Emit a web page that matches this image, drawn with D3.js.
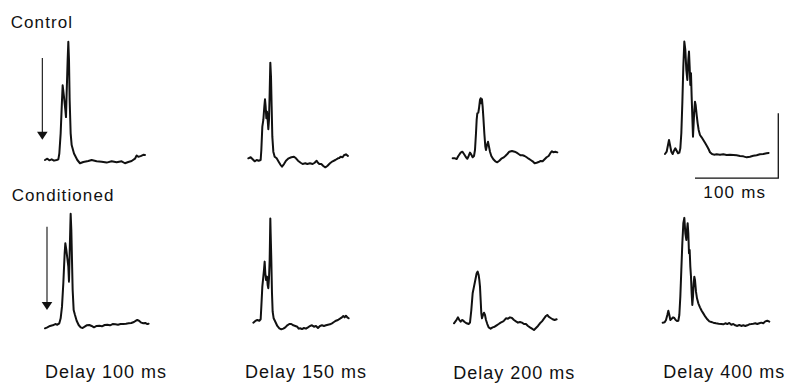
<!DOCTYPE html>
<html><head><meta charset="utf-8">
<script src="https://cdn.jsdelivr.net/npm/d3@7"></script>
<style>html,body{margin:0;padding:0;background:#fff;} svg{display:block;}</style>
</head><body><svg id="c" width="786" height="383"></svg>
<script>
// ---- data ----
const delays = ["Delay 100 ms", "Delay 150 ms", "Delay 200 ms", "Delay 400 ms"];
const conditions = ["Control", "Conditioned"];
const scaleLabel = "100 ms";
// [time ms from panel origin, amplitude (scale bar = 100 units)]
const control100 = [[0,0],[2.8,2],[5.2,-0.5],[8,1],[10.8,-1],[14,0],[16,1],[17.2,10],[18.8,41],[20.4,92],[21.2,115],[22.8,97],[24.4,77],[25.2,66],[26,103],[27.2,154],[28,182],[28.8,154],[29.6,92],[30.8,41],[32,23],[34.8,10],[38.8,0],[42,-5],[46,-3],[52,-1.5],[56,0],[62,-2],[68,-2.6],[74,-4],[80,-2],[86,-3.5],[92,-2],[96,-5],[100,-3],[104,-1.5],[108,2],[110,7],[112,5],[114.8,6],[118,8],[120,7.7]];
const control150 = [[1.6,2.6],[4.4,4.2],[6.8,1.1],[9.2,-2],[11.6,0],[14,-1.1],[16.4,0],[17.2,15.4],[18.4,51.3],[19.6,61.6],[20.8,82],[21.6,93.5],[22.4,82],[23.2,64.2],[24,74.4],[24.8,61.6],[25.6,47.3],[26.4,61.6],[27.2,102.7],[28,149.8],[28.8,128.3],[29.6,82],[30.4,35.9],[31.6,12.8],[33.2,5.1],[35.6,2.6],[38,-2.6],[40.4,-7.7],[42,-10.3],[44.4,-6.2],[46.8,-1.1],[50,2.6],[53.2,4.2],[56.4,5.1],[58.8,2.6],[61.2,-1.1],[64.4,-4.2],[66.8,-6.2],[70,-5.1],[72.4,-6.2],[75.6,-5.1],[78.8,-6.2],[81.2,-4.2],[83.6,-1.1],[85.2,-4.2],[86.8,-6.2],[89.2,-6.2],[91.6,-9.2],[94,-11.3],[96.4,-9.2],[99.6,-5.1],[102.8,-2],[106,0],[109.2,2.6],[110.8,3.1],[112.4,5.1],[114.8,4.2],[116.4,7.3],[118.8,8.8],[121.2,6.2]];
const control200 = [[0.8,2.6],[3.6,2.6],[5.6,1.5],[7.6,6.2],[10.4,11.3],[12.4,12.8],[14.4,9.2],[16.8,4.2],[18.4,2],[20,6.2],[21.6,11.3],[23.2,8.2],[24.8,4.2],[26.4,6.2],[27.6,15.4],[28.8,41.1],[29.6,61.6],[30.4,71.9],[31.6,72.9],[32.4,79.6],[33.6,92.4],[34.4,95],[35.2,87.3],[36,93.5],[36.8,82.1],[37.6,66.7],[38.8,41.1],[40,20.5],[40.8,15.4],[42,23.1],[43.2,28.2],[44.4,20.5],[45.6,12.8],[47.2,6.2],[49.6,1.1],[52,-2],[54.4,-3.6],[56.8,-1.1],[59.2,2],[61.6,3.6],[64,6.2],[66.4,9.2],[68.8,12.8],[72,13.9],[75.2,12.8],[77.6,11.3],[80,9.2],[82.4,7.2],[84.8,7.2],[87.2,6.2],[89.6,4.2],[92,2],[94.4,0],[96.8,-2],[99.2,-5.1],[101.6,-4.2],[104,-3.1],[106.4,-1.5],[108.8,-2],[111.2,1.1],[113.6,4.2],[116,6.2],[118.4,11.3],[120,13.4],[121.6,11.8],[124,12.8],[126.4,11.8]];
const control400 = [[0,9.2],[2,12.8],[3.6,23.1],[4.8,30.8],[6,23.1],[7.6,12.8],[9.2,9.2],[10.8,14.3],[12.4,17.9],[14,14.3],[15.6,10.3],[17.2,11.3],[18.4,17.9],[19.6,41.1],[20.8,87.3],[22,143.8],[23.2,182.2],[24.4,169.4],[25.6,138.6],[26.8,123.2],[28,154],[28.8,166.8],[29.6,143.8],[30.4,115.5],[31.2,133.4],[32,97.5],[32.8,66.7],[33.6,35.9],[34.4,56.5],[35.2,77],[36,89.8],[36.8,84.7],[38,69.3],[39.2,56.5],[40.4,46.2],[42,38.5],[44,34.9],[46,30.8],[48.4,25.7],[50.8,20.5],[52.4,16.5],[54,11.9],[56.4,9.2],[58.8,8.2],[62,8.8],[66,8.2],[70,8.8],[74,7.7],[78,8.2],[82,7.7],[86,7.2],[90,6.2],[94,5.6],[98,4.1],[102,5.1],[106,6.6],[110,7.2],[114,8.8],[118,9.2],[122,10.3],[124.4,10.8]];
const conditioned100 = [[0,-5.1],[2.8,-3.6],[6,-1.5],[9.2,-0.5],[12.4,1.5],[14.8,0.5],[17.2,2.6],[18.8,10.3],[20.4,28.2],[22,64.2],[23.6,110.4],[24.4,125.8],[25.6,115.5],[26.8,102.7],[28,89.8],[28.8,66.7],[29.6,110.4],[30.4,151.5],[30.8,171.1],[31.6,146.3],[32.4,100.1],[33.2,53.9],[34.4,23.1],[36,15.4],[38,6.6],[40.4,0],[42.8,-3.6],[45.2,-4.6],[47.6,-2.6],[50,-0.5],[53.2,0],[56,-1.5],[58.8,-3.6],[62,-1.5],[65.2,-1.1],[68.4,-2],[71.6,0],[74.8,0.5],[78,-0.5],[81.2,1.5],[84.4,1.1],[87.6,0.5],[90.8,1.5],[94,1.5],[97.2,2],[100.4,2.6],[103.6,3.1],[106.8,4.6],[109.2,6.6],[110.8,7.7],[113.2,6.2],[115.6,3.6],[118,2.6],[120.4,3.1],[122.8,1.5],[124.4,2]];
const conditioned150 = [[7.6,3.6],[10,6.2],[12.4,7.7],[14.8,6.6],[16.4,8.8],[17.2,28.2],[18.4,59],[19.6,74.4],[20.4,84.7],[21.2,97.5],[22,79.6],[22.8,69.3],[24,74.4],[24.8,61.6],[25.6,56.5],[26.4,71.9],[27.2,100.1],[27.6,130.9],[28,164],[28.4,141.1],[29.2,100.1],[30,48.8],[30.8,20.5],[32,10.3],[34,5.1],[36.4,-1.5],[38.8,-5.1],[41.2,-6.6],[43.6,-5.6],[46,-3.6],[48.4,-0.5],[50.8,1.5],[53.2,1.5],[55.6,-0.5],[58,-1.5],[60.4,-2.6],[62,-5.6],[63.6,-5.1],[66,-6.2],[68.4,-4.6],[70.8,-5.6],[73.2,-3.6],[75.6,-1.5],[78,-0.5],[80.4,-2.6],[82.8,-1.5],[85.2,-4.6],[87.6,-1.5],[90,-0.5],[92.4,-1.5],[94.8,-0.5],[97.2,0.5],[99.6,1.1],[102,2.6],[104.4,4.6],[106.8,6.6],[109.2,7.7],[111.6,9.7],[114,11.8],[115.6,13.9],[117.2,11.8],[118.8,14.3],[120.4,11.8],[122,10.3]];
const conditioned200 = [[2.4,2.6],[4.8,6.6],[7.2,11.8],[8.8,7.7],[10.4,5.1],[12,7.7],[13.6,6.6],[15.2,4.6],[17.6,2.6],[20,1.5],[21.6,3.6],[23.2,23.1],[24.8,48.8],[26.4,59],[28,69.3],[29.6,79.6],[30.8,82.1],[32,77],[32.8,69.3],[33.6,59],[34.4,38.5],[35.2,17.9],[36,10.3],[37.2,15.4],[38.4,18.9],[39.6,15.4],[40.8,7.7],[42.4,1.5],[44,-3.6],[46.4,-5.6],[48.8,-3.6],[51.2,-2.6],[53.6,-0.5],[56,1.5],[58.4,3.6],[60.8,5.1],[62.4,6.6],[64.8,10.3],[67.2,9.7],[69.6,11.8],[72,10.8],[74.4,7.7],[76.8,5.6],[79.2,3.6],[81.6,4.6],[84,3.6],[86.4,1.5],[88.8,1.5],[91.2,-1.5],[93.6,-3.6],[96,-5.6],[98.4,-7.7],[100.8,-4.6],[103.2,-1.5],[105.6,2.6],[108,5.6],[110.4,9.7],[112.8,13.9],[114.4,15.4],[116,12.8],[118.4,10.8],[120.8,8.8],[123.2,7.7],[125.6,8.8]];
const conditioned400 = [[-2.8,3.6],[-0.4,4.1],[1.2,7.7],[2.8,15.4],[4,22],[5.2,15.4],[6.4,7.7],[8,9.7],[9.6,11.8],[11.2,10.8],[12.8,7.7],[14.4,6.2],[16,6.6],[17.2,15.4],[18.4,43.6],[19.6,84.7],[20.8,125.8],[22,156.6],[23.2,164.8],[24.4,141.1],[25.6,130.9],[26.4,146.3],[27.2,156.6],[28,141.1],[28.8,110.4],[29.6,115.5],[30.4,89.8],[31.2,74.4],[32,48.8],[32.8,30.8],[33.6,43.6],[34.4,64.2],[35.2,74.4],[36,69.3],[37.2,51.3],[38.4,41.1],[40,33.4],[42,27.2],[44,22],[46,17.9],[48.4,12.8],[50.8,8.8],[53.2,5.6],[55.6,4.6],[58,3.6],[61.2,2.6],[64.4,2],[67.6,1.5],[70,1.1],[72.4,2.6],[74.8,1.5],[77.2,3.1],[79.6,0.5],[82,1.5],[84.4,-0.5],[86.8,-1.5],[89.2,0],[91.6,-1.5],[94,-0.5],[96.4,-1.5],[98.8,-0.5],[101.2,1.1],[103.6,1.5],[106,2],[108.4,2.6],[110.8,1.5],[113.2,2.6],[115.6,3.6],[118,2.6],[120.4,5.6],[122.8,6.6],[125.2,5.1]];
const stimulusArrows = [
  {condition: "Control", delay: "Delay 100 ms", t: -3.2, top: 157, tip: 31},
  {condition: "Conditioned", delay: "Delay 100 ms", t: 2.4, top: 151, tip: 23}
];
const scaleBar = {ms: 100, amp: 100, t0: 36, v0: -28};

const traces = [
  {condition: "Control", delay: "Delay 100 ms", points: control100},
  {condition: "Control", delay: "Delay 150 ms", points: control150},
  {condition: "Control", delay: "Delay 200 ms", points: control200},
  {condition: "Control", delay: "Delay 400 ms", points: control400},
  {condition: "Conditioned", delay: "Delay 100 ms", points: conditioned100},
  {condition: "Conditioned", delay: "Delay 150 ms", points: conditioned150},
  {condition: "Conditioned", delay: "Delay 200 ms", points: conditioned200},
  {condition: "Conditioned", delay: "Delay 400 ms", points: conditioned400}
];

// ---- layout ----
const svg = d3.select("#c");
const colX = d3.scaleOrdinal().domain(delays).range([45, 247, 452, 665]);
const rowY = d3.scaleOrdinal().domain(conditions).range([160, 325]);
const tScale = d3.scaleLinear().domain([0, 100]).range([0, 83.3]);
const aScale = d3.scaleLinear().domain([0, 100]).range([0, 65]);
const font = "'Liberation Sans', Arial, Helvetica, sans-serif";

const X = (d, t) => colX(d) + tScale(t);
const Y = (c, v) => rowY(c) - aScale(v);

traces.forEach(tr => {
  const line = d3.line().x(p => X(tr.delay, p[0])).y(p => Y(tr.condition, p[1]));
  svg.append("path").attr("d", line(tr.points))
    .attr("fill", "none").attr("stroke", "#111").attr("stroke-width", 2)
    .attr("stroke-linejoin", "round").attr("stroke-linecap", "round");
});

// stimulus arrows
stimulusArrows.forEach(a => {
  const x = X(a.delay, a.t);
  const yTop = Y(a.condition, a.top), yTip = Y(a.condition, a.tip);
  svg.append("line").attr("x1", x).attr("x2", x).attr("y1", yTop).attr("y2", yTip - 6)
    .attr("stroke", "#111").attr("stroke-width", 1.1);
  svg.append("path").attr("d", `M${x - 5.3},${yTip - 8}L${x + 5.3},${yTip - 8}L${x},${yTip}Z`).attr("fill", "#111");
});

// scale bar
const sbD = delays[3], sbC = conditions[0];
const sx0 = X(sbD, scaleBar.t0), sx1 = X(sbD, scaleBar.t0 + scaleBar.ms);
const sy0 = Y(sbC, scaleBar.v0), sy1 = Y(sbC, scaleBar.v0 + scaleBar.amp);
svg.append("path").attr("d", `M${sx0},${sy0}H${sx1}V${sy1}`)
  .attr("fill", "none").attr("stroke", "#111").attr("stroke-width", 1.3);
svg.append("text").attr("x", 703.3).attr("y", 198.3).text(scaleLabel)
  .attr("font-family", font).attr("font-size", 17).attr("letter-spacing", 1.2).attr("fill", "#111");

// row labels
const rowLabelY = d3.scaleOrdinal().domain(conditions).range([28.3, 200.7]);
const rowLabelX = d3.scaleOrdinal().domain(conditions).range([10.7, 11.7]);
conditions.forEach(c => {
  svg.append("text").attr("x", rowLabelX(c)).attr("y", rowLabelY(c)).text(c)
    .attr("font-family", font).attr("font-size", 17).attr("letter-spacing", 1.1).attr("fill", "#111");
});

// column labels
const colLabelX = d3.scaleOrdinal().domain(delays).range([45, 245, 453.3, 663.3]);
const colLabelY = d3.scaleOrdinal().domain(delays).range([378.2, 378.2, 378.8, 377.6]);
delays.forEach(d => {
  svg.append("text").attr("x", colLabelX(d)).attr("y", colLabelY(d)).text(d)
    .attr("font-family", font).attr("font-size", 18).attr("letter-spacing", 1).attr("fill", "#111");
});
</script></body></html>
